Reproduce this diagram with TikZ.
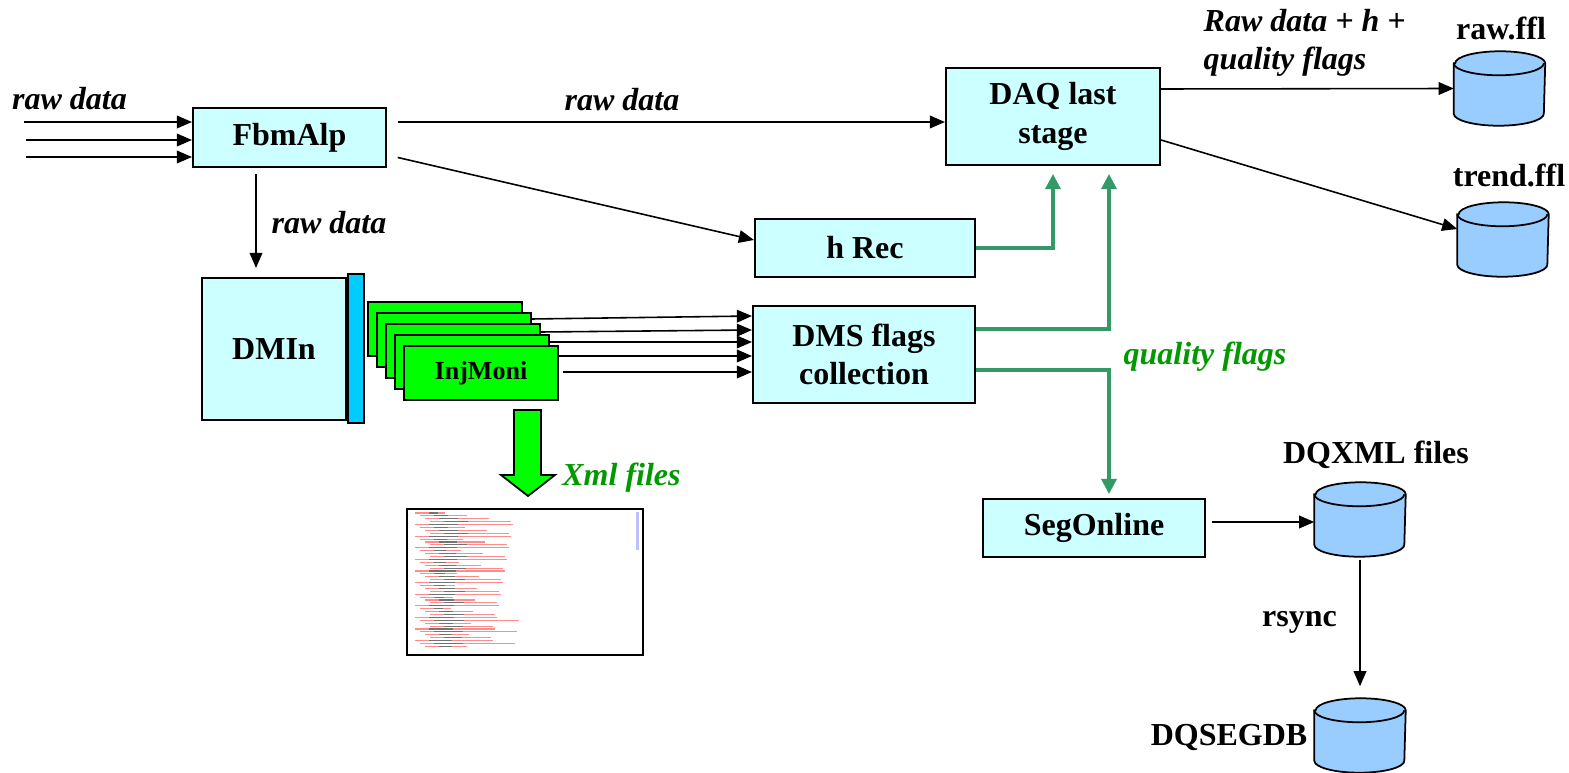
\documentclass[tikz,border=0pt]{standalone}
\usepackage{fontspec}
\setmainfont{Liberation Serif}
\usetikzlibrary{arrows.meta}
\definecolor{boxcyan}{HTML}{CCFFFF}
\definecolor{barblue}{HTML}{00CCFF}
\definecolor{injgreen}{HTML}{00FF00}
\definecolor{dbblue}{HTML}{99CCFF}
\definecolor{flowgreen}{HTML}{339966}
\definecolor{textgreen}{HTML}{009900}
\newcommand\diagfont{\fontsize{9.1pt}{11pt}\selectfont\bfseries}
\newcommand\injfont{\fontsize{7.4pt}{9pt}\selectfont\bfseries}
\begin{document}
\begin{tikzpicture}[x=0.01cm, y=-0.01cm,
  box/.style={draw, line width=0.55pt, fill=boxcyan, inner sep=0pt, align=center, font=\diagfont},
  injbox/.style={draw, line width=0.45pt, fill=injgreen, minimum width=1.54cm, minimum height=0.54cm, inner sep=0pt},
  db/.style={minimum width=0.9cm, minimum height=0.73cm, inner sep=0pt},
  lbl/.style={font=\diagfont, inner sep=0pt},
  ilbl/.style={font=\diagfont\itshape, inner sep=0pt},
  arr/.style={-{Triangle[length=4.3pt,width=3.6pt]}, line width=0.45pt},
  garr/.style={-{Triangle[length=4.3pt,width=4.3pt]}, line width=0.9pt, color=flowgreen},
  xmlline/.style={line width=0.3pt, draw=red!45!white},
  xmldark/.style={line width=0.3pt, draw=black!55}]
\useasboundingbox (0,0) rectangle (1569,773);

% boxes
\node[box, minimum width=1.93cm, minimum height=0.59cm] (fbm) at (289.5,137.5) {FbmAlp};
\node[box, minimum width=1.44cm, minimum height=1.42cm] (dmin) at (274,349) {DMIn};
\node[draw, line width=0.55pt, fill=barblue, minimum width=0.16cm, minimum height=1.49cm, inner sep=0pt] (bus) at (356,348.5) {};
\node[box, minimum width=2.14cm, minimum height=0.97cm] (daq) at (1053,116.5) {DAQ last\\stage};
\node[box, minimum width=2.2cm, minimum height=0.58cm] (hrec) at (865,248) {h Rec};
\node[box, minimum width=2.22cm, minimum height=0.97cm] (dms) at (864,354.5) {DMS flags\\collection};
\node[box, minimum width=2.22cm, minimum height=0.58cm] (seg) at (1094,528) {SegOnline};

% InjMoni stack
\foreach \i in {0,...,3}
  \node[injbox] (inj\i) at (445+9*\i,329+11*\i) {};
\node[injbox, font=\injfont] (inj) at (481,373) {InjMoni};

% databases
\node[db] (raw) at (1499.5,88.5) {};
\node[db] (trend) at (1503,239.5) {};
\node[db] (dqxml) at (1360,519.5) {};
\node[db] (segdb) at (1360,735.5) {};
\foreach \c in {raw,trend,dqxml,segdb} {
  \draw[line width=0.5pt, fill=dbblue] ([yshift=-0.12cm]\c.north west) -- ([yshift=0.12cm]\c.south west)
    arc[start angle=180, end angle=360, x radius=0.45cm, y radius=0.12cm]
    -- ([yshift=-0.12cm]\c.north east)
    arc[start angle=0, end angle=180, x radius=0.45cm, y radius=0.12cm] -- cycle;
  \draw[line width=0.5pt] ([yshift=-0.12cm]\c.north west)
    arc[start angle=180, end angle=360, x radius=0.45cm, y radius=0.12cm];
}
\node[lbl] (rawlbl) at (1501,28) {raw.ffl};
\node[lbl] (trendlbl) at (1509,175) {trend.ffl};
\node[lbl] (dqxmllbl) at (1376,455) {DQXML files};
\node[lbl] (segdblbl) at (1229,737) {DQSEGDB};
\node[lbl] (rsynclbl) at (1299.5,622) {rsync};

% raw data in
\coordinate (in1) at (24,122);
\coordinate (in2) at (26,140);
\coordinate (in3) at (26,157);
\foreach \k/\y in {1/122,2/140,3/157}
  \draw[arr] (in\k) -- (fbm.west |- 0,\y);
\node[ilbl] (rawin) at (69.5,99) {raw data};

% black connectors
\draw[arr, shorten <=0.11cm] (fbm.east |- 0,122) -- (daq.west |- 0,122);
\node[ilbl] (rawtop) at (622,100) {raw data};
\draw[arr, shorten <=0.11cm] (fbm.east |- 0,155) -- (hrec.west |- 0,240);
\draw[arr, shorten <=0.06cm, shorten >=0.09cm] (fbm.south -| 256,0) -- (dmin.north -| 256,0);
\node[ilbl] (rawdown) at (329,223) {raw data};
\draw[arr] (inj1.east |- 0,319) -- (dms.west |- 0,316);
\draw[arr] (inj2.east |- 0,332) -- (dms.west |- 0,330);
\draw[arr] (inj3.east |- 0,342) -- (dms.west |- 0,342);
\draw[arr] (inj.east |- 0,356) -- (dms.west |- 0,356);
\draw[arr, shorten <=0.04cm] (inj.east |- 0,372) -- (dms.west |- 0,372);
\draw[arr] (daq.east |- 0,89) -- (raw.west);
\draw[arr] (daq.east |- 0,140) -- (trend.west |- 0,229);
\node[ilbl, align=left, anchor=west] (outlbl) at (1203,43) {Raw data + h +\\quality flags};
\draw[arr, shorten <=0.06cm] (seg.east |- 0,522) -- (dqxml.west |- 0,522);
\draw[arr, shorten <=0.03cm, shorten >=0.12cm] (dqxml.south) -- (segdb.north);

% quality flags
\draw[garr, shorten >=0.08cm] (hrec.east) -| (daq.south);
\draw[garr, shorten >=0.08cm] (dms.east |- 0,329) -| (daq.south -| 1109,0);
\draw[garr, shorten >=0.04cm] (dms.east |- 0,370) -| (seg.north -| 1109,0);
\node[ilbl, text=textgreen] (qflbl) at (1205,357) {quality flags};

% xml output
\draw[line width=0.5pt, fill=injgreen] (514,410) -- (541,410) -- (541,475) -- (555,475)
  -- (528,496) -- (501,475) -- (514,475) -- cycle;
\node[ilbl, text=textgreen] (xmllbl) at (621.5,478) {Xml files};
\draw[line width=0.7pt, fill=white] (407,509) rectangle (643,655);
\foreach \i in {0,...,46} {
  \pgfmathsetmacro{\xl}{415+5*mod(\i,4)}
  \pgfmathsetmacro{\len}{30+mod(17*\i,70)}
  \draw[xmlline] (\xl,513+2.9*\i) -- ++(\len,0);
  \draw[xmldark] (\xl+14,513+2.9*\i) -- ++(0.3*\len,0);
}
\fill[blue!25] (636,512) rectangle (639,550);
\end{tikzpicture}
\end{document}
